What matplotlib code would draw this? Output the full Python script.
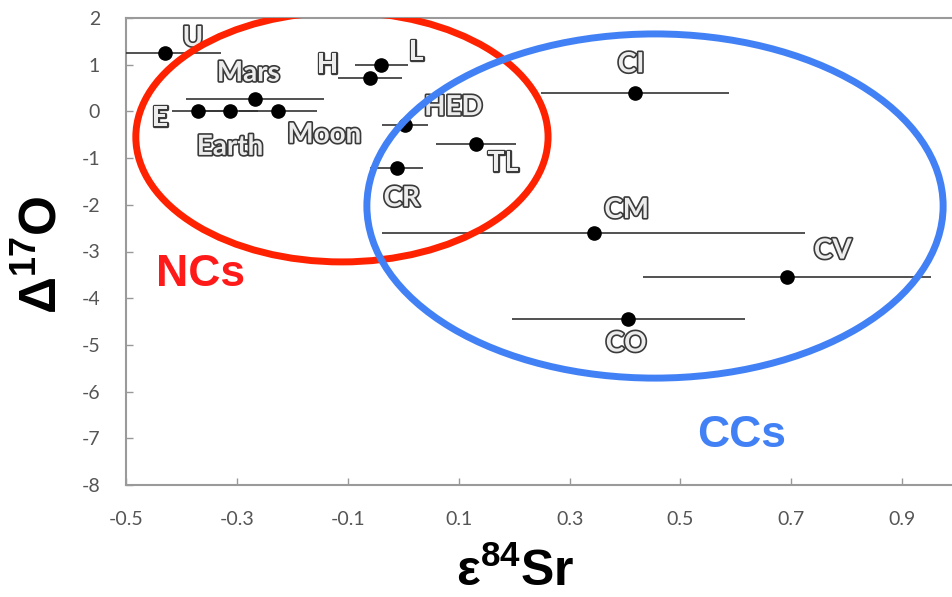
import matplotlib
matplotlib.use("Agg")
import matplotlib.pyplot as plt
from matplotlib.patches import Ellipse
import matplotlib.patheffects as pe

# ---- data ----
groups = ["U", "L", "H", "Mars", "E", "Earth", "Moon", "HED", "TL", "CR", "CI", "CM", "CV", "CO"]
sr84 = [-0.430, -0.040, -0.060, -0.268, -0.370, -0.313, -0.226, 0.003, 0.131, -0.012, 0.418, 0.343, 0.693, 0.406]
d17o = [1.25, 1.00, 0.71, 0.27, 0.00, 0.00, 0.00, -0.29, -0.70, -1.22, 0.39, -2.61, -3.54, -4.45]
sr84_err = [0.10, 0.048, 0.058, 0.125, 0.048, 0.05, 0.07, 0.042, 0.073, 0.048, 0.169, 0.382, 0.26, 0.21]
# label positions (data coords)
label_x = [-0.380, 0.023, -0.137, -0.280, -0.440, -0.313, -0.143, 0.090, 0.180, -0.003, 0.411, 0.403, 0.775, 0.402]
label_y = [1.57, 1.27, 1.00, 0.82, -0.14, -0.76, -0.50, 0.09, -1.10, -1.86, 1.01, -2.11, -2.98, -4.97]

xticks = [-0.5, -0.3, -0.1, 0.1, 0.3, 0.5, 0.7, 0.9]
xtick_labels = ["-0.5", "-0.3", "-0.1", "0.1", "0.3", "0.5", "0.7", "0.9"]
yticks = [2, 1, 0, -1, -2, -3, -4, -5, -6, -7, -8]
ytick_labels = ["2", "1", "0", "-1", "-2", "-3", "-4", "-5", "-6", "-7", "-8"]

plt.rcParams["mathtext.fontset"] = "custom"
plt.rcParams["mathtext.rm"] = "Liberation Sans"
plt.rcParams["mathtext.bf"] = "Liberation Sans:bold"

fig = plt.figure(figsize=(9.53, 5.97), dpi=100)
W, H = 953, 597
ax_left, ax_right, ax_top, ax_bot = 126.4, 952.0, 18.0, 485.0
ax = fig.add_axes([ax_left / W, 1 - ax_bot / H, (ax_right - ax_left) / W, (ax_bot - ax_top) / H])

ax.errorbar(sr84, d17o, xerr=sr84_err, fmt="o", color="black", ecolor="#333333",
            elinewidth=1.2, capsize=0, markersize=9.5, zorder=3)

outline = [pe.withStroke(linewidth=2.4, foreground="#3a3a3a")]
for name, lx, ly in zip(groups, label_x, label_y):
    ax.text(lx, ly, name, ha="center", va="center", fontsize=20, family="Lato",
            fontweight="bold", color="#ececec", path_effects=outline, zorder=4)

# group ellipses
ax.add_patch(Ellipse((-0.111, -0.548), 0.744, 5.35, fill=False, edgecolor="#ff2200",
                     linewidth=5, zorder=5))
ax.add_patch(Ellipse((0.454, -2.026), 1.040, 7.37, fill=False, edgecolor="#4281f5",
                     linewidth=5, zorder=5))

ax.text(-0.367, -3.50, "NCs", ha="center", va="center", fontsize=32, fontweight="bold",
        family="Liberation Sans", color="#ff1a1a", zorder=6)
ax.text(0.611, -6.93, "CCs", ha="center", va="center", fontsize=32, fontweight="bold",
        family="Liberation Sans", color="#4281f5", zorder=6)

ax.set_xlim(-0.5, 0.99)
ax.set_ylim(-8, 2)
ax.set_xticks(xticks)
ax.set_xticklabels(xtick_labels)
ax.set_yticks(yticks)
ax.set_yticklabels(ytick_labels)
ax.tick_params(axis="both", direction="in", length=5, width=1, color="#999999",
               labelcolor="#555555", labelsize=14, pad=19)
for lab in ax.get_xticklabels() + ax.get_yticklabels():
    lab.set_family("Lato")

for s in ["left", "bottom", "top"]:
    ax.spines[s].set_color("#9a9a9a")
    ax.spines[s].set_linewidth(1.5)
ax.spines["right"].set_visible(False)

fig.text(515 / W, 1 - 572 / H, r"$\mathbf{\varepsilon^{84}Sr}$", ha="center", va="center",
         fontsize=36, color="black")
fig.text(43 / W, 1 - 255 / H, r"$\mathbf{\Delta^{17}O}$", ha="center", va="center",
         fontsize=37, rotation=90, color="black")

fig.savefig("out.png", dpi=100)
